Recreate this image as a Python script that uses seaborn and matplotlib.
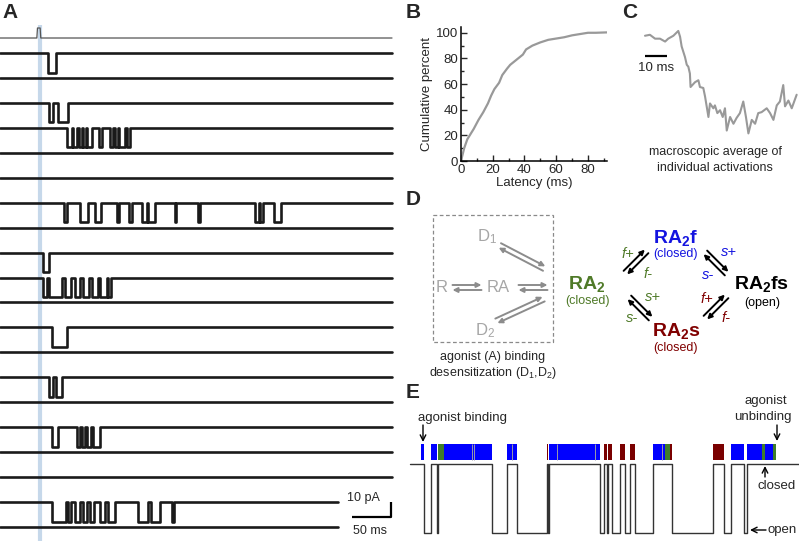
import numpy as np
import pandas as pd
import matplotlib
matplotlib.use("Agg")
import matplotlib.pyplot as plt
from matplotlib.patches import Rectangle
from matplotlib.ticker import MultipleLocator
import seaborn as sns

W, H = 799, 541

# ---- A: idealized single-channel sweeps, openings as (start, end) in ms ----
sweep_len_ms = [500] * 18 + [431, 431]
openings = [
    [(61, 71)],
    [],
    [(63, 68), (74, 87)],
    [(85, 92), (93, 98), (101, 105), (106, 110), (111, 117), (126, 130),
     (140, 144), (147, 151), (152, 159), (162, 166)],
    [],
    [],
    [(81, 85), (102, 112), (121, 129), (149, 152), (164, 168), (181, 187),
     (189, 198), (223, 225), (253, 255), (325, 330), (332, 336), (349, 359)],
    [],
    [(55, 62)],
    [(55, 60), (63, 79), (83, 91), (96, 102), (106, 113), (117, 125),
     (128, 136), (138, 142)],
    [],
    [(66, 85)],
    [],
    [(63, 67), (72, 79)],
    [],
    [(66, 74), (98, 102), (104, 108), (111, 116), (119, 128)],
    [],
    [],
    [(66, 84), (87, 91), (96, 102), (106, 111), (115, 120), (128, 134),
     (138, 147), (176, 189), (193, 204), (220, 222)],
    [],
]
unit_pA = 13.0
stim_on, stim_off = 47, 52
flash_ms = 51

# ---- B: latency to first opening ----
latency = [0, 1, 2, 4, 6, 8, 11, 14, 17, 19, 21, 24, 26, 29, 31, 33, 35, 37,
           39, 41, 45, 50, 55, 60, 65, 70, 75, 80, 85, 92]
cum_pct = [0, 5, 10, 17, 21, 25, 32, 38, 45, 51, 56, 61, 67, 72, 75, 77, 79,
           81, 83, 87, 90, 92.5, 94.5, 95.5, 96.5, 98, 99, 100, 100, 100.3]

# ---- C: macroscopic average (normalized) ----
avg_t = [0, 2.2, 4.5, 6.7, 9.0, 10.4, 12.7, 14.9, 15.7, 16.4, 17.9, 18.7, 19.4,
         20.1, 20.4, 22.4, 23.9, 24.6, 26.1, 26.9, 28.4, 29.1, 30.6, 31.3,
         32.4, 33.6, 34.8, 35.8, 36.6, 38.1, 39.6, 41.0, 42.5, 44.0, 45.2,
         46.3, 47.8, 49.3, 50.7, 52.2, 54.5, 56.0, 57.5, 59.0, 60.4, 61.9,
         62.7, 64.2, 65.7, 67.9]
avg_i = [0.01, 0.02, -0.02, -0.02, -0.05, -0.02, 0.01, 0.06, 0.0, -0.10,
         -0.21, -0.29, -0.31, -0.38, -0.52, -0.47, -0.45, -0.52, -0.53, -0.62,
         -0.83, -0.69, -0.74, -0.71, -0.79, -0.76, -0.83, -0.74, -0.97, -0.83,
         -0.90, -0.84, -0.79, -0.67, -0.83, -1.00, -0.86, -0.90, -0.79, -0.78,
         -0.74, -0.79, -0.86, -0.71, -0.67, -0.50, -0.72, -0.66, -0.74, -0.60]

# ---- E: idealized closed dwells (state, start, end) ----
dwell_state = ["f", "f", "g", "f", "f", "f", "f", "f", "s", "f", "f", "f",
               "s", "s", "s", "s", "f", "f", "g", "s", "s", "f", "f", "g",
               "f", "g"]
dwell_start = [20.7, 30.7, 38.3, 44, 72, 74, 107.3, 112, 146.7, 149.3, 156.7,
               195, 204, 208.3, 220, 230, 253, 262, 265, 270, 313, 331, 347,
               362, 365, 373]
dwell_end = [24, 36.7, 44, 72, 74, 91.7, 112, 117.3, 148.3, 156.7, 195, 200,
             207, 211.7, 225, 235, 262, 265, 270, 272, 324, 344, 362, 365,
             373, 376]
record_start, record_end = 10, 400
state_colors = {"f": "#0000ff", "g": "#3f7d2a", "s": "#7a0000"}

GREEN, BLUE, RED, GRAY = "#4f7a28", "#1414e0", "#800000", "#8c8c8c"

sns.set_style("white")
plt.rcParams["font.family"] = ["Liberation Sans", "DejaVu Sans"]
plt.rcParams["mathtext.fontset"] = "custom"
plt.rcParams["mathtext.rm"] = "Liberation Sans"
plt.rcParams["mathtext.bf"] = "Liberation Sans:bold"
plt.rcParams["mathtext.it"] = "Liberation Sans:italic"

fig = plt.figure(figsize=(W / 100, H / 100), dpi=100)


def px_axes(x0, y0, x1, y1):
    return fig.add_axes([x0 / W, 1 - y1 / H, (x1 - x0) / W, (y1 - y0) / H])


# ---------------- panel A ----------------
axA = px_axes(0, 25, 395, 541)
gap = 16.63
rows = []
for k, (ops, L) in enumerate(zip(openings, sweep_len_ms)):
    base = -18.7 - k * gap
    t, y = [0], [base]
    for a, b in ops:
        t += [a, a, b, b]
        y += [base, base - unit_pA, base - unit_pA, base]
    t.append(L)
    y.append(base)
    rows += [{"sweep": k, "t": tt, "i": yy} for tt, yy in zip(t, y)]
sweeps = pd.DataFrame(rows)
sns.lineplot(data=sweeps, x="t", y="i", units="sweep", estimator=None,
             sort=False, color="#1a1a1a", lw=1.9, ax=axA, legend=False)

stim = pd.DataFrame({"t": [0, stim_on, stim_on + 0.8, stim_off - 0.8, stim_off, 500],
                     "i": [-8.67, -8.67, -2.0, -2.0, -8.67, -8.67]})
sns.lineplot(data=stim, x="t", y="i", sort=False, estimator=None,
             color="#555555", lw=0.9, ax=axA)
axA.axvline(flash_ms, color="#c6d8ea", lw=3, zorder=0)

# scale bars 10 pA / 50 ms
axA.plot([449, 499, 499], [-328, -328, -318], color="k", lw=1.6,
         solid_capstyle="butt")
axA.text(485, -315, "10 pA", ha="right", va="center", fontsize=9)
axA.text(472, -337, "50 ms", ha="center", va="center", fontsize=9)
axA.set_xlim(0, 395 / 0.784)
axA.set_ylim(-344, 0)
axA.axis("off")

# ---------------- panel B ----------------
axB = px_axes(461, 27, 607, 161)
sns.lineplot(x=latency, y=cum_pct, color="#999999", lw=1.6, ax=axB)
axB.set_xlim(0, 92)
axB.set_ylim(0, 104.5)
axB.set_xticks([0, 20, 40, 60, 80])
axB.set_yticks([0, 20, 40, 60, 80, 100])
axB.xaxis.set_minor_locator(MultipleLocator(10))
axB.yaxis.set_minor_locator(MultipleLocator(10))
axB.tick_params(which="major", direction="in", length=4, width=1,
                labelsize=9.5, pad=2, bottom=True, left=True)
axB.tick_params(which="minor", direction="in", length=2.5, width=1,
                bottom=True, left=True)
axB.set_xlabel("Latency (ms)", fontsize=9.5, labelpad=1)
axB.set_ylabel("Cumulative percent", fontsize=9.5, labelpad=2)
sns.despine(ax=axB)
for s in ("left", "bottom"):
    axB.spines[s].set_color("k")
    axB.spines[s].set_linewidth(1.1)

# ---------------- panel C ----------------
axC = px_axes(640, 20, 800, 140)
sns.lineplot(x=avg_t, y=avg_i, color="#999999", lw=1.5, ax=axC)
axC.plot([0, 10], [-0.2, -0.2], color="k", lw=1.6, solid_capstyle="butt")
axC.text(5, -0.26, "10 ms", ha="center", va="top", fontsize=9.5)
axC.set_xlim(-2.24, 69.4)
axC.set_ylim(-1.068, 0.173)
axC.axis("off")

# ---------------- panel E ----------------
axE = px_axes(400, 400, 800, 541)
for st in state_colors:
    segs = [(a, b - a) for s, a, b in zip(dwell_state, dwell_start, dwell_end) if s == st]
    axE.broken_barh(segs, (-0.29, 0.232), facecolors=state_colors[st],
                    edgecolor="none")
for i in range(1, len(dwell_start)):
    if abs(dwell_start[i] - dwell_end[i - 1]) < 1e-6 and dwell_state[i] == dwell_state[i - 1]:
        axE.vlines(dwell_start[i], -0.29, -0.058, color="#9a9aa8", lw=0.7)

# step trace: closed (0) during dwells / outside burst, open (1) in gaps
tt, yy = [record_start], [0]
for i in range(1, len(dwell_start)):
    a, b = dwell_end[i - 1], dwell_start[i]
    if b - a > 1e-6:
        tt += [a, a, b, b]
        yy += [0, 1, 1, 0]
tt.append(record_end)
yy.append(0)
idealized = pd.DataFrame({"t": tt, "state": yy})
sns.lineplot(data=idealized, x="t", y="state", sort=False, estimator=None,
             color="#333333", lw=1.0, ax=axE)
axE.set_xlim(0, 400)
axE.set_ylim(1.116, -0.928)
axE.axis("off")

# ---------------- overlay: labels and scheme ----------------
ov = px_axes(0, 0, W, H)
ov.set_xlim(0, W)
ov.set_ylim(H, 0)
ov.axis("off")

for lab, x, y in [("A", 2, 3), ("B", 406, 3), ("C", 622, 3), ("D", 406, 190), ("E", 406, 383)]:
    ov.text(x, y, lab, fontsize=15, fontweight="bold", ha="left", va="top")

ov.text(715, 152, "macroscopic average of", ha="center", va="center", fontsize=9)
ov.text(715, 168, "individual activations", ha="center", va="center", fontsize=9)


def arrow_pair(cx, cy, dx, dy, length, sep, color):
    d = np.array([dx, dy], float)
    d /= np.hypot(*d)
    n = np.array([d[1], -d[0]])
    c = np.array([cx, cy], float)
    fwd_a = c - d * length / 2 + n * sep / 2
    fwd_b = c + d * length / 2 + n * sep / 2
    bwd_a = c + d * length / 2 - n * sep / 2
    bwd_b = c - d * length / 2 - n * sep / 2
    for a, b in ((fwd_a, fwd_b), (bwd_a, bwd_b)):
        ov.annotate("", xy=b, xytext=a,
                    arrowprops=dict(arrowstyle="-|>", color=color, lw=1.4,
                                    mutation_scale=7, shrinkA=0, shrinkB=0))


# D: agonist binding / desensitization box
ov.add_patch(Rectangle((433, 215), 120, 127, fill=False, ls=(0, (3, 2)),
                       lw=0.9, ec="#8a8a8a"))
ov.text(487, 237, "D$_1$", color="#a6a6a6", fontsize=12, ha="center", va="center")
ov.text(442, 288, "R", color="#a6a6a6", fontsize=12, ha="center", va="center")
ov.text(498, 288, "RA", color="#a6a6a6", fontsize=12, ha="center", va="center")
ov.text(485, 331, "D$_2$", color="#a6a6a6", fontsize=12, ha="center", va="center")
arrow_pair(467, 287.5, 1, 0, 29, 5, GRAY)
arrow_pair(533, 287.5, 1, 0, 29, 5, GRAY)
arrow_pair(522, 257, 46, 24, 50, 5, GRAY)
arrow_pair(520, 310, 50, -23, 52, 5, GRAY)
ov.text(493, 357, "agonist (A) binding", ha="center", va="center", fontsize=9)
ov.text(493, 373, "desensitization (D$_1$,D$_2$)", ha="center", va="center", fontsize=9)

# D: gating scheme
ov.text(587, 284, "RA$_\\mathbf{2}$", color=GREEN, fontsize=14, fontweight="bold", ha="center", va="center")
ov.text(587, 301, "(closed)", color=GREEN, fontsize=9, ha="center", va="center")
ov.text(676, 238, "RA$_\\mathbf{2}$f", color=BLUE, fontsize=14, fontweight="bold", ha="center", va="center")
ov.text(676, 254, "(closed)", color=BLUE, fontsize=9, ha="center", va="center")
ov.text(762, 284, "RA$_\\mathbf{2}$fs", color="k", fontsize=14, fontweight="bold", ha="center", va="center")
ov.text(762, 303, "(open)", color="k", fontsize=9, ha="center", va="center")
ov.text(676, 331, "RA$_\\mathbf{2}$s", color=RED, fontsize=14, fontweight="bold", ha="center", va="center")
ov.text(676, 348, "(closed)", color=RED, fontsize=9, ha="center", va="center")

arrow_pair(636, 262, 1, -1, 30, 5, "k")
arrow_pair(716, 263, 1, 1, 30, 5, "k")
arrow_pair(640, 308, 1, 1, 30, 5, "k")
arrow_pair(716, 307, 1, -1, 30, 5, "k")

for txt, x, y, col in [("f+", 628, 254, GREEN), ("f-", 648, 274, GREEN),
                       ("s+", 729, 252, BLUE), ("s-", 708, 275, BLUE),
                       ("s+", 653, 297, GREEN), ("s-", 632, 318, GREEN),
                       ("f+", 707, 299, RED), ("f-", 726, 318, RED)]:
    ov.text(x, y, txt, color=col, fontsize=10.5, style="italic", ha="center", va="center")

# E annotations
ov.text(462, 418, "agonist binding", ha="center", va="center", fontsize=9.5)
ov.annotate("", xy=(423, 442), xytext=(423, 425),
            arrowprops=dict(arrowstyle="->", color="k", lw=1, shrinkA=0, shrinkB=0))
ov.text(766, 401, "agonist", ha="center", va="center", fontsize=9.5)
ov.text(763, 417, "unbinding", ha="center", va="center", fontsize=9.5)
ov.annotate("", xy=(777, 441), xytext=(777, 425),
            arrowprops=dict(arrowstyle="->", color="k", lw=1, shrinkA=0, shrinkB=0))
ov.annotate("", xy=(765, 466), xytext=(765, 477),
            arrowprops=dict(arrowstyle="->", color="k", lw=1, shrinkA=0, shrinkB=0))
ov.text(777, 486, "closed", ha="center", va="center", fontsize=9.5)
ov.annotate("", xy=(750, 530), xytext=(766, 530),
            arrowprops=dict(arrowstyle="->", color="k", lw=1, shrinkA=0, shrinkB=0))
ov.text(768, 530, "open", ha="left", va="center", fontsize=9.5)

fig.savefig("out.png", dpi=100)
